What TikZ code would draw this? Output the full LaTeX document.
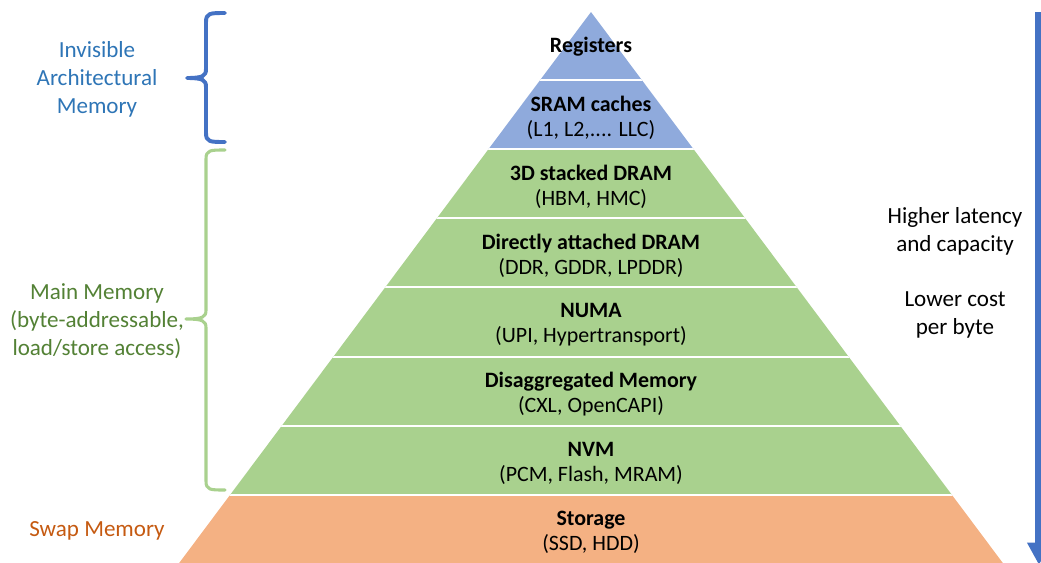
\documentclass[tikz,border=0pt]{standalone}
\usepackage{fontspec}
\setmainfont{Carlito}
\usetikzlibrary{arrows.meta}
\definecolor{pyrblue}{HTML}{8FAADC}
\definecolor{pyrgreen}{HTML}{A9D18E}
\definecolor{pyrorange}{HTML}{F4B183}
\definecolor{braceblue}{HTML}{4472C4}
\definecolor{textblue}{HTML}{2E75B6}
\definecolor{textgreen}{HTML}{538135}
\definecolor{textorange}{HTML}{C55A11}
\tikzstyle{lbl}=[align=center,
                 inner sep=0pt,
                 font=\fontsize{15.6}{17.8}\selectfont]
\tikzstyle{side}=[align=center,
                  inner sep=0pt,
                  font=\fontsize{16.4}{19.9}\selectfont]
\tikzstyle{sep}=[draw=white,
                 line width=1.5pt]
\tikzstyle{brace}=[line cap=round,
                   line join=round]

\begin{document}
\begin{tikzpicture}[x=0.025cm,y=-0.025cm]
\useasboundingbox (0,0) rectangle (1041,562);
\clip (0,0) rectangle (1041,562);

% pyramid bands (blue, green, orange)
\begin{scope}
\clip (591,12) -- (141.8,613) -- (1040.2,613) -- cycle;
\fill[pyrblue] (100,0) rectangle (1041,149);
\fill[pyrgreen] (100,149) rectangle (1041,495);
\fill[pyrorange] (100,495) rectangle (1041,620);
\path[sep] (100,80) -- (1041,80)
           (100,149) -- (1041,149)
           (100,218) -- (1041,218)
           (100,287) -- (1041,287)
           (100,357) -- (1041,357)
           (100,426) -- (1041,426)
           (100,495) -- (1041,495);
\end{scope}

% level labels
\node[lbl] (reg) at (591,47) {\textbf{Registers}};
\node[lbl] (sram) at (591,117.5) {\textbf{SRAM caches}\\(L1, L2,.... LLC)};
\node[lbl] (stacked) at (591,186.5) {\textbf{3D stacked DRAM}\\(HBM, HMC)};
\node[lbl] (dram) at (591,255.5) {\textbf{Directly attached DRAM}\\(DDR, GDDR, LPDDR)};
\node[lbl] (numa) at (591,324.5) {\textbf{NUMA}\\(UPI, Hypertransport)};
\node[lbl] (disagg) at (591,394.5) {\textbf{Disaggregated Memory}\\(CXL, OpenCAPI)};
\node[lbl] (nvm) at (591,463.5) {\textbf{NVM}\\(PCM, Flash, MRAM)};
\node[lbl] (storage) at (591,532.5) {\textbf{Storage}\\(SSD, HDD)};

% memory classes on the left
\node[side,text=textblue] (invis) at (97,79) {Invisible\\Architectural\\Memory};
\node[side,text=textgreen] (mainmem) at (97,321) {Main Memory\\(byte-addressable,\\load/store access)};
\node[side,text=textorange] (swap) at (97,531) {Swap Memory};

% braces
\draw[brace,braceblue,line width=2.8pt] (225,13) .. controls (210,13) and (206,13) .. (206,22)
      -- (206,69) .. controls (206,76) and (203,78) .. (187,78)
      .. controls (203,78) and (206,80) .. (206,87)
      -- (206,133) .. controls (206,142) and (210,142) .. (225,142);
\draw[brace,pyrgreen,line width=2.2pt] (225,150) .. controls (210,150) and (206,150) .. (206,159)
      -- (206,310) .. controls (206,317) and (203,319) .. (186,319)
      .. controls (203,319) and (206,321) .. (206,328)
      -- (206,481) .. controls (206,490) and (210,490) .. (225,490);

% trend on the right
\node[side] (latency) at (955,231) {Higher latency\\and capacity};
\node[side] (cost) at (955,315) {Lower cost\\per byte};
\coordinate (arrtop) at (1039,12);
\coordinate (arrbot) at (1039,565);
\draw[braceblue,line width=5.7pt,-{Triangle[length=16pt,width=16pt]}] (arrtop) -- (arrbot);

\end{tikzpicture}
\end{document}
